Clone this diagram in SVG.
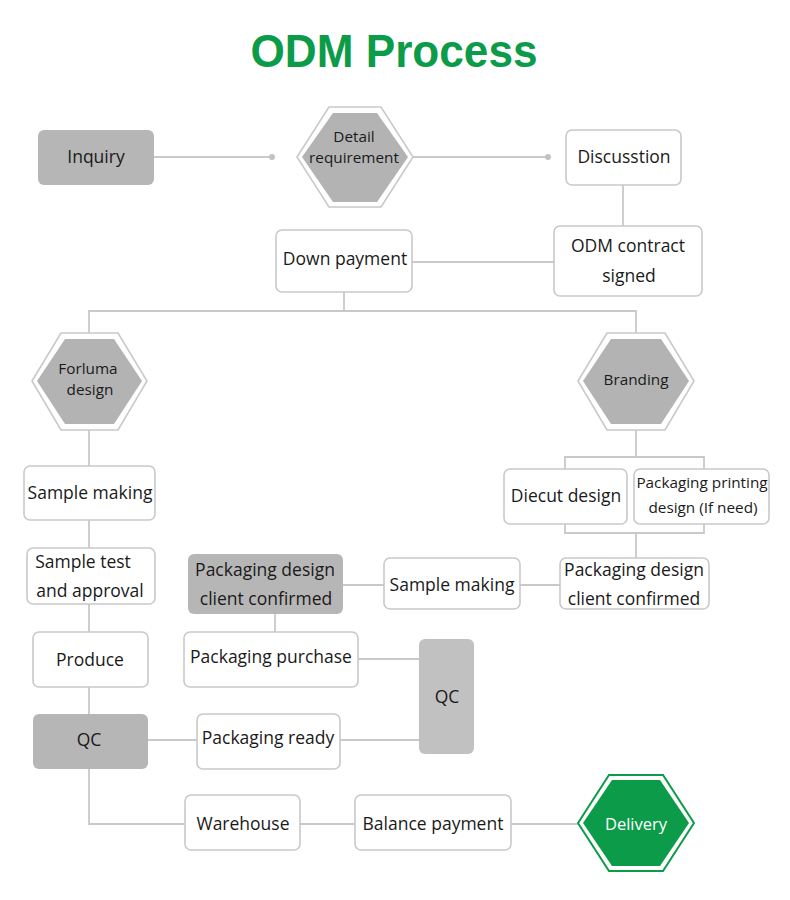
<svg xmlns="http://www.w3.org/2000/svg" width="790" height="900" viewBox="0 0 790 900">
<style>
.box{fill:#fff;stroke:#c9c9c9;stroke-width:1.6}
.gbox{fill:#b6b6b6;stroke:none}
.gbox2{fill:#c1c1c1;stroke:none}
.hexo{fill:#fff;stroke:#c9c9c9;stroke-width:1.6}
.hexi{fill:#b3b3b3}
.ghexo{fill:#fff;stroke:#0c9b48;stroke-width:2}
.ghexi{fill:#0c9b48}
.t{font-family:"Open Sans","Noto Sans","DejaVu Sans",sans-serif;font-size:17.5px;fill:#1a1a1a;text-anchor:middle}
.ts{font-size:15.3px}
.tw{fill:#fff;font-size:16.5px}
.ln{fill:none;stroke:#c9c9c9;stroke-width:1.8}
.title{font-family:"Liberation Sans",Arial,sans-serif;font-weight:bold;font-size:47px;fill:#0c9b48;text-anchor:middle}
</style>
<rect width="790" height="900" fill="#fff"/>
<text class="title" x="394" y="67" textLength="287" lengthAdjust="spacingAndGlyphs">ODM Process</text>

<g id="connectors">
<path class="ln" d="M154 157H272"/>
<circle cx="272" cy="157" r="3" fill="#c2c2c2"/>
<path class="ln" d="M413 157H548"/>
<circle cx="548" cy="157" r="3" fill="#c2c2c2"/>
<path class="ln" d="M623 185V226"/>
<path class="ln" d="M412 262H554"/>
<path class="ln" d="M344 292V311M89 333V311H636V333"/>
<path class="ln" d="M89 430V466M89 520V548M89 604V632M89 687V714"/>
<path class="ln" d="M636 430V457M565 469V457H704V469M565 524V533H704V524M636 533V558"/>
<path class="ln" d="M560 585H520M384 585H343M275 614V632"/>
<path class="ln" d="M358 659H419M148 740H197M340 740H419"/>
<path class="ln" d="M89 769V824H185M300 824H355M511 824H578"/>
</g>

<g id="inquiry">
<rect class="gbox" x="38" y="130" width="116" height="55" rx="6"/>
<text class="t" x="96" y="163">Inquiry</text>
</g>
<g id="detail-requirement">
<polygon class="hexo" points="297,157 329,107 381,107 413,157 381,207 329,207"/>
<polygon class="hexi" points="302,157 333,113 377,113 408,157 377,202 333,202"/>
<text class="t ts" x="354" y="142">Detail</text>
<text class="t ts" x="354" y="163">requirement</text>
</g>
<g id="discusstion">
<rect class="box" x="566" y="130" width="115" height="55" rx="6"/>
<text class="t" x="624" y="163">Discusstion</text>
</g>
<g id="odm-contract">
<rect class="box" x="554" y="226" width="148" height="70" rx="6"/>
<text class="t" x="628" y="252">ODM contract</text>
<text class="t" x="629" y="282">signed</text>
</g>
<g id="down-payment">
<rect class="box" x="276" y="230" width="136" height="62" rx="6"/>
<text class="t" x="345" y="265">Down payment</text>
</g>
<g id="forluma-design">
<polygon class="hexo" points="32,381 61,333 118,333 147,381 118,430 61,430"/>
<polygon class="hexi" points="37,381 65,339 114,339 142,381 114,424 65,424"/>
<text class="t ts" x="88" y="374">Forluma</text>
<text class="t ts" x="90" y="395">design</text>
</g>
<g id="branding">
<polygon class="hexo" points="578,381 607,333 665,333 694,381 665,430 607,430"/>
<polygon class="hexi" points="583,381 611,339 661,339 689,381 661,424 611,424"/>
<text class="t ts" x="636" y="385">Branding</text>
</g>
<g id="sample-making-1">
<rect class="box" x="24" y="466" width="131" height="54" rx="6"/>
<text class="t" x="90" y="499">Sample making</text>
</g>
<g id="sample-test">
<rect class="box" x="27" y="548" width="128" height="56" rx="6"/>
<text class="t" x="83" y="568">Sample test</text>
<text class="t" x="90" y="597">and approval</text>
</g>
<g id="produce">
<rect class="box" x="33" y="632" width="115" height="55" rx="6"/>
<text class="t" x="90" y="666">Produce</text>
</g>
<g id="qc-1">
<rect class="gbox" x="33" y="714" width="115" height="55" rx="6"/>
<text class="t" x="89" y="746">QC</text>
</g>
<g id="diecut-design">
<rect class="box" x="504" y="469" width="123" height="55" rx="6"/>
<text class="t" x="566" y="502">Diecut design</text>
</g>
<g id="packaging-printing">
<rect class="box" x="634" y="469" width="135" height="55" rx="6"/>
<text class="t ts" x="702" y="488">Packaging printing</text>
<text class="t ts" x="703" y="513">design (If need)</text>
</g>
<g id="pkg-confirmed-2">
<rect class="box" x="560" y="558" width="149" height="51" rx="6"/>
<text class="t" x="634" y="576">Packaging design</text>
<text class="t" x="634" y="605">client confirmed</text>
</g>
<g id="sample-making-2">
<rect class="box" x="384" y="558" width="136" height="51" rx="6"/>
<text class="t" x="452" y="591">Sample making</text>
</g>
<g id="pkg-confirmed-1">
<rect class="gbox" x="188" y="554" width="155" height="60" rx="6"/>
<text class="t" x="265" y="576">Packaging design</text>
<text class="t" x="266" y="605">client confirmed</text>
</g>
<g id="packaging-purchase">
<rect class="box" x="184" y="632" width="174" height="55" rx="6"/>
<text class="t" x="271" y="663">Packaging purchase</text>
</g>
<g id="qc-2">
<rect class="gbox2" x="419" y="639" width="55" height="115" rx="6"/>
<text class="t" x="447" y="703">QC</text>
</g>
<g id="packaging-ready">
<rect class="box" x="197" y="714" width="143" height="55" rx="6"/>
<text class="t" x="268" y="744">Packaging ready</text>
</g>
<g id="warehouse">
<rect class="box" x="185" y="795" width="115" height="55" rx="6"/>
<text class="t" x="243" y="830">Warehouse</text>
</g>
<g id="balance-payment">
<rect class="box" x="355" y="795" width="156" height="55" rx="6"/>
<text class="t" x="433" y="830">Balance payment</text>
</g>
<g id="delivery">
<polygon class="ghexo" points="578,823 609,775 663,775 694,823 663,871 609,871"/>
<polygon class="ghexi" points="583,823 612,780 660,780 689,823 660,866 612,866"/>
<text class="t tw" x="636" y="830">Delivery</text>
</g>
</svg>
